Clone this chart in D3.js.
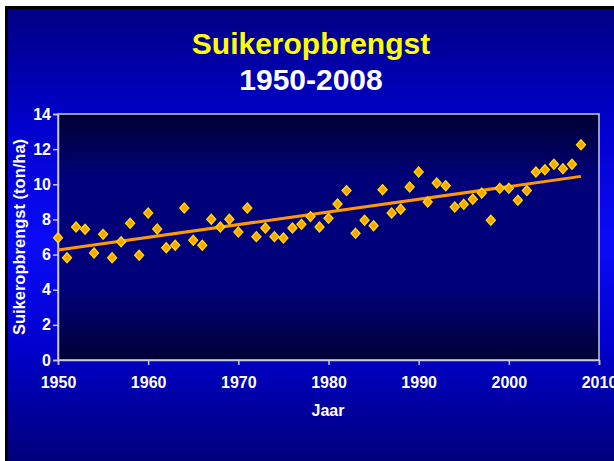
<!DOCTYPE html>
<html>
<head>
<meta charset="utf-8">
<script src="https://cdn.jsdelivr.net/npm/d3@7"></script>
<style>
  html, body { margin: 0; padding: 0; background: #fff; }
  svg { display: block; }
  text { font-family: "Liberation Sans", Arial, sans-serif; font-weight: bold; }
</style>
</head>
<body>
<div id="chart"></div>
<script>
// sugar yield per year (ton/ha)
var years = [1950, 1951, 1952, 1953, 1954, 1955, 1956, 1957, 1958, 1959,
  1960, 1961, 1962, 1963, 1964, 1965, 1966, 1967, 1968, 1969,
  1970, 1971, 1972, 1973, 1974, 1975, 1976, 1977, 1978, 1979,
  1980, 1981, 1982, 1983, 1984, 1985, 1986, 1987, 1988, 1989,
  1990, 1991, 1992, 1993, 1994, 1995, 1996, 1997, 1998, 1999,
  2000, 2001, 2002, 2003, 2004, 2005, 2006, 2007, 2008]
var yields = [6.96, 5.82, 7.57, 7.44, 6.09, 7.15, 5.82, 6.73, 7.78, 5.96,
  8.37, 7.46, 6.39, 6.53, 8.65, 6.81, 6.53, 8.01, 7.57, 8.01,
  7.28, 8.65, 7.02, 7.51, 7.02, 6.94, 7.51, 7.72, 8.16, 7.57,
  8.06, 8.88, 9.64, 7.21, 7.95, 7.64, 9.69, 8.37, 8.58, 9.85,
  10.70, 8.99, 10.07, 9.92, 8.71, 8.86, 9.15, 9.50, 7.95, 9.77,
  9.77, 9.09, 9.64, 10.70, 10.83, 11.14, 10.89, 11.14, 12.25]

// trend line end points
var trendYears = [1950, 2008]
var trendValues = [6.26, 10.45]

var xTicks = [1950, 1960, 1970, 1980, 1990, 2000, 2010]
var yTicks = [0, 2, 4, 6, 8, 10, 12, 14]

var W = 614, H = 461
var plot = { left: 58, right: 599, top: 114, bottom: 360 }

var svg = d3.select("#chart").append("svg")
  .attr("width", W)
  .attr("height", H)

var defs = svg.append("defs")

var bg = defs.append("linearGradient")
  .attr("id", "bg").attr("x1", 0).attr("y1", 0).attr("x2", 0).attr("y2", 1)
bg.append("stop").attr("offset", "0%").attr("stop-color", "#000084")
bg.append("stop").attr("offset", "25%").attr("stop-color", "#0000cc")
bg.append("stop").attr("offset", "52%").attr("stop-color", "#0a0af8")
bg.append("stop").attr("offset", "75%").attr("stop-color", "#0000cc")
bg.append("stop").attr("offset", "100%").attr("stop-color", "#00007a")

var pg = defs.append("linearGradient")
  .attr("id", "pg").attr("x1", 0).attr("y1", 0).attr("x2", 0).attr("y2", 1)
pg.append("stop").attr("offset", "0%").attr("stop-color", "#000033")
pg.append("stop").attr("offset", "25%").attr("stop-color", "#000078")
pg.append("stop").attr("offset", "70%").attr("stop-color", "#00007c")
pg.append("stop").attr("offset", "100%").attr("stop-color", "#000035")

// slide frame
svg.append("rect").attr("x", 5).attr("y", 6).attr("width", W).attr("height", H).attr("fill", "#000")
svg.append("rect").attr("x", 8).attr("y", 9).attr("width", W).attr("height", H - 9).attr("fill", "url(#bg)")

// titles
svg.append("text")
  .attr("x", 311).attr("y", 54)
  .attr("text-anchor", "middle")
  .attr("font-size", 30)
  .attr("fill", "#ffff00")
  .text("Suikeropbrengst")

svg.append("text")
  .attr("x", 311).attr("y", 90)
  .attr("text-anchor", "middle")
  .attr("font-size", 30)
  .attr("fill", "#fff")
  .text("1950-2008")

var x = d3.scaleLinear().domain([1950, 2010]).range([plot.left, plot.right])
var y = d3.scaleLinear().domain([0, 14]).range([plot.bottom, plot.top])

svg.append("rect")
  .attr("x", plot.left).attr("y", plot.top)
  .attr("width", plot.right - plot.left).attr("height", plot.bottom - plot.top)
  .attr("fill", "url(#pg)")
  .attr("stroke", "#c8c8e6")
  .attr("stroke-width", 1.5)

var axisColor = "#c8c8e6"

var gx = svg.append("g")
  .attr("transform", "translate(0," + plot.bottom + ")")
  .call(d3.axisBottom(x).tickValues(xTicks).tickFormat(d3.format("d")).tickSize(5).tickPadding(12))
var gy = svg.append("g")
  .attr("transform", "translate(" + plot.left + ",0)")
  .call(d3.axisLeft(y).tickValues(yTicks).tickSize(5).tickPadding(2))

svg.selectAll(".domain").attr("stroke", axisColor).attr("stroke-width", 1.5)
svg.selectAll(".tick line").attr("stroke", axisColor).attr("stroke-width", 1.5)
svg.selectAll(".tick text")
  .attr("fill", "#fff")
  .attr("font-size", 16)
  .attr("font-family", "Liberation Sans, Arial, sans-serif")
  .attr("font-weight", "bold")

// axis titles
svg.append("text")
  .attr("x", 328).attr("y", 416)
  .attr("text-anchor", "middle")
  .attr("font-size", 16)
  .attr("fill", "#fff")
  .text("Jaar")

svg.append("text")
  .attr("transform", "translate(25,237) rotate(-90)")
  .attr("text-anchor", "middle")
  .attr("font-size", 16.5)
  .attr("fill", "#fff")
  .text("Suikeropbrengst (ton/ha)")

// trend
svg.append("line")
  .attr("x1", x(trendYears[0])).attr("y1", y(trendValues[0]))
  .attr("x2", x(trendYears[1])).attr("y2", y(trendValues[1]))
  .attr("stroke", "#ff9900")
  .attr("stroke-width", 3)

// points
var pts = years.map(function (d, i) { return { year: d, value: yields[i] } })

svg.append("g")
  .selectAll("path")
  .data(pts)
  .join("path")
  .attr("d", "M0,-5L4.5,0L0,5L-4.5,0Z")
  .attr("transform", function (d) { return "translate(" + x(d.year) + "," + y(d.value) + ")" })
  .attr("fill", "#ffa500")
  .attr("stroke", "#ffdd00")
  .attr("stroke-width", 1.3)
</script>
</body>
</html>
